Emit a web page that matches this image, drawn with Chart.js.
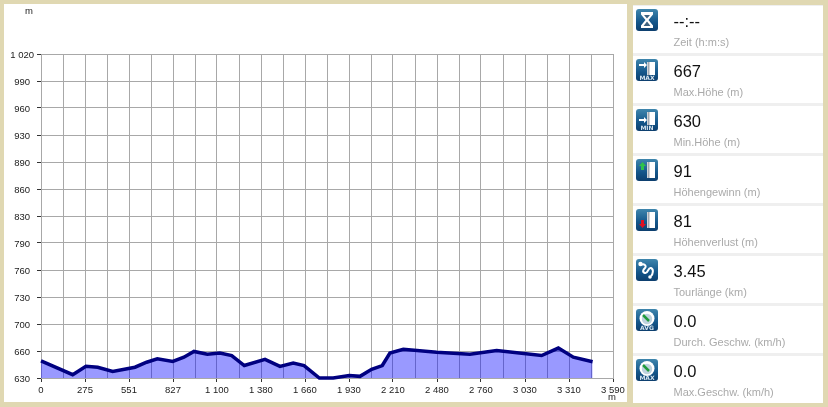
<!DOCTYPE html>
<html><head><meta charset="utf-8">
<script src="https://cdn.jsdelivr.net/npm/chart.js@4"></script>
<style>
html,body{margin:0;padding:0;width:828px;height:407px;overflow:hidden;background:#e0d8b2;font-family:"Liberation Sans",Arial,sans-serif}
#panel{position:absolute;left:4px;top:4px;width:623px;height:398px;background:#fff}
#wrap{position:absolute;left:0;top:0;width:628px;height:407px}
.unit{position:absolute;font:9.5px "Liberation Sans",sans-serif;color:#222}
#side{position:absolute;left:633px;top:5px;width:190px;height:398px;background:#efefef}
.row{position:absolute;left:0;width:190px;height:47px;background:#fff}
.row svg{position:absolute;left:3px;top:3px}
.val{position:absolute;left:40.5px;top:6px;font-size:16.5px;color:#111}
.lab{position:absolute;left:40.5px;top:30px;font-size:11px;color:#aaa;white-space:nowrap}
</style></head><body>
<div id="panel"></div>
<div id="wrap"><canvas id="c" width="628" height="407"></canvas></div>
<div class="unit" style="left:25px;top:5px">m</div>
<div class="unit" style="left:608px;top:391px">m</div>
<div id="side"></div>
<script>
const distances=[0,199,282,356,450,590,663,730,827,897,960,1044,1123,1197,1276,1406,1500,1583,1651,1747,1834,1935,2002,2075,2142,2190,2274,2483,2692,2860,3142,3247,3341,3462];
const elevations=[650.5,634,644,643,638,643,649,653,650,655,662,658.5,660,657,645,652.5,644,648,645,630,630,633,632,640.5,645,660,664.5,661,658.5,663,657,666,655,649.5];
const yTickLabels=['630','660','700','730','760','790','830','860','890','930','960','990','1 020'];
const xTickLabels=['0','275','551','827','1 100','1 380','1 660','1 930','2 210','2 480','2 760','3 030','3 310','3 590'];
const statValues=['--:--','667','630','91','81','3.45','0.0','0.0'];
const statLabels=['Zeit (h:m:s)','Max.Höhe (m)','Min.Höhe (m)','Höhengewinn (m)','Höhenverlust (m)','Tourlänge (km)','Durch. Geschw. (km/h)','Max.Geschw. (km/h)'];
const statIcons=['time','max','min','gain','loss','route','avg','vmax'];

const font={family:'"Liberation Sans",sans-serif',size:9.5};
new Chart(document.getElementById('c'),{
 type:'line',
 data:{datasets:[{data:distances.map((d,i)=>({x:d,y:elevations[i]})),borderColor:'#000080',borderWidth:3.5,backgroundColor:'rgba(0,0,255,0.4)',fill:'start',pointRadius:0,tension:0,clip:false}]},
 options:{responsive:false,animation:false,
  layout:{padding:{top:54,right:15,left:0,bottom:0}},
  plugins:{legend:{display:false},tooltip:{enabled:false}},
  scales:{
   x:{type:'linear',min:0,max:3590,
    afterFit:s=>{s.height=29},
    afterBuildTicks:s=>{s.ticks=Array.from({length:27},(_,i)=>({value:3590*i/26}))},
    grid:{color:'#a8a8a8',lineWidth:1,tickLength:4,tickColor:c=>c.index%2?'rgba(0,0,0,0)':'#333'},
    border:{color:'#a8a8a8'},
    ticks:{autoSkip:false,maxRotation:0,padding:3,color:'#222',font,callback:(v,i)=>i%2?'':xTickLabels[i/2]}},
   y:{min:630,max:1020,
    afterFit:s=>{s.width=41},
    afterBuildTicks:s=>{s.ticks=yTickLabels.map((_,i)=>({value:630+32.5*i}))},
    grid:{color:'#a8a8a8',lineWidth:1,tickLength:4,tickColor:'#333'},
    border:{color:'#a8a8a8'},
    ticks:{padding:3,labelOffset:1,color:'#222',font,crossAlign:'center',callback:(v,i)=>yTickLabels[i]}}
  }}
});
function icon(kind){
 const txt={max:'MAX',min:'MIN',avg:'AVG',vmax:'MAX'}[kind];
 let g='';
 if(kind==='time') g='<path d="M5 3h12v2.500l-4.500 5.500 4.500 5.500V19H5v-2.500l4.500-5.500L5 5.500z" fill="#fff"/><path d="M7.500 17h7l-3.500-4.500zM8 6h6l-3 3.500z" fill="#3d6280"/>';
 else if(kind==='max'||kind==='min'||kind==='gain'||kind==='loss') {
  const h=txt?13:16;
  g='<rect x="11" y="3" width="8" height="'+h+'" fill="#fff"/><path d="M12.500 3.500v'+h+'" stroke="#456" stroke-width="2" stroke-dasharray="1 1"/>';
  if(kind==='max') g+='<path d="M3 5h5V3l3 3-3 3V7H3z" fill="#fff"/>';
  if(kind==='min') g+='<path d="M3 10h5V8l3 3-3 3v-2H3z" fill="#fff"/>';
  if(kind==='gain') g+='<path d="M6.500 3l3.500 4H8v4H5V7H3z" fill="#2fc24a"/>';
  if(kind==='loss') g+='<path d="M6.500 19l3.500-4H8v-4H5v4H3z" fill="#e01020"/>';
 } else if(kind==='route') g='<path d="M5 6c3-2 6 1 4 3s-3 4 0 5 3-6 6-5 2 6 0 8" fill="none" stroke="#fff" stroke-width="2"/><circle cx="4.500" cy="5" r="2.200" fill="#fff"/><circle cx="14" cy="18" r="1.800" fill="#fff"/>';
 else g='<circle cx="11" cy="9.500" r="7.500" fill="#fff"/><circle cx="11" cy="10" r="5.200" fill="#bfd3df"/><path d="M7 6l6 6" stroke="#1f9a3c" stroke-width="2.500"/>';
 const label=txt?'<text x="11" y="20.500" text-anchor="middle" font-size="6" font-weight="bold" fill="#d5e4ef" font-family="DejaVu Sans">'+txt+'</text>':'';
 const id='g'+kind;
 return '<svg width="23" height="23" viewBox="0 0 23 23"><defs><linearGradient id="'+id+'" x1="0" y1="0" x2="0" y2="1"><stop offset="0" stop-color="#3f86ad"/><stop offset=".6" stop-color="#14568a"/><stop offset="1" stop-color="#0d3f6e"/></linearGradient></defs><rect width="22" height="22" rx="3" fill="url(#'+id+')"/>'+g+label+'</svg>';
}
const side=document.getElementById('side');
statValues.forEach((v,i)=>{
 const r=document.createElement('div');r.className='row';r.style.top=(1+50*i)+'px';
 r.innerHTML=icon(statIcons[i])+'<div class="val">'+v+'</div><div class="lab">'+statLabels[i]+'</div>';
 side.appendChild(r);
});
</script>
</body></html>
